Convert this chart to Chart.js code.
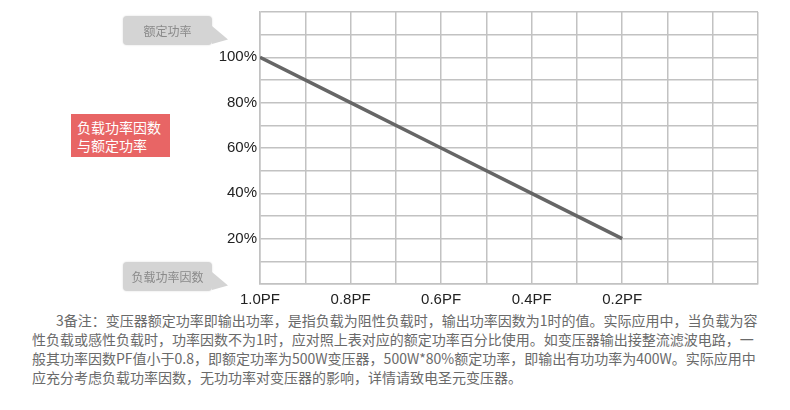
<!DOCTYPE html>
<html lang="zh-CN">
<head>
    <meta charset="UTF-8">
    <title>负载功率因数与额定功率</title>
    <style>
        body {
            margin: 0;
            padding: 0;
            background-color: #fff;
            font-family: 'Noto Sans CJK SC', sans-serif;
        }
        .page {
            position: relative;
            width: 790px;
            height: 410px;
            overflow: hidden;
        }
        #pfChart {
            position: absolute;
            left: 0;
            top: 0;
        }
        .bubble {
            position: absolute;
            width: 89px;
            height: 29px;
            line-height: 29px;
            background-color: #d4d4d4;
            border-radius: 4px;
            color: #8a8a8a;
            font-size: 12px;
            text-align: center;
            box-shadow: 0 0 2px rgba(0, 0, 0, 0.15);
        }
        .bubble::after {
            content: '';
            position: absolute;
            left: 89px;
            top: 10px;
            width: 16px;
            height: 18px;
            background-color: #d4d4d4;
            clip-path: polygon(0 0, 100% 75%, 0 100%);
        }
        .tag {
            position: absolute;
            left: 71px;
            top: 114px;
            width: 93px;
            height: 43px;
            padding-left: 6px;
            background-color: #e86565;
            color: #fff;
            font-size: 14px;
            line-height: 18px;
            padding-top: 4px;
            box-sizing: border-box;
            width: 99px;
        }
        .note {
            position: absolute;
            left: 32px;
            top: 311px;
            width: 716px;
            color: #6a6a6a;
            font-size: 14px;
            line-height: 19px;
        }
        .note div {
            white-space: nowrap;
            text-align: justify;
            text-align-last: justify;
        }
        .note div.first {
            padding-left: 24px;
        }
        .note div.last {
            text-align-last: left;
        }
    </style>
</head>
<body>
    <div class="page">
        <canvas id="pfChart" width="790" height="310"></canvas>
        <div class="bubble" style="left:123px; top:16px;">额定功率</div>
        <div class="bubble" style="left:123px; top:262px;">负载功率因数</div>
        <div class="tag">负载功率因数<br>与额定功率</div>
        <div class="note">
            <div class="first">3备注：变压器额定功率即输出功率，是指负载为阻性负载时，输出功率因数为1时的值。实际应用中，当负载为容</div>
            <div>性负载或感性负载时，功率因数不为1时，应对照上表对应的额定功率百分比使用。如变压器输出接整流滤波电路，一</div>
            <div>般其功率因数PF值小于0.8，即额定功率为500W变压器，500W*80%额定功率，即输出有功功率为400W。实际应用中</div>
            <div class="last">应充分考虑负载功率因数，无功功率对变压器的影响，详情请致电圣元变压器。</div>
        </div>
    </div>
    <script src="https://cdn.jsdelivr.net/npm/chart.js@4/dist/chart.umd.min.js"></script>
    <script>
        // power factor (x) and rated power percentage (y)
        const powerFactor = [1.0, 0.8, 0.6, 0.4, 0.2];
        const ratedPower = [100, 80, 60, 40, 20];

        // tick labels
        const pfTicks = [1.0, 0.8, 0.6, 0.4, 0.2];
        const pfLabels = ['1.0PF', '0.8PF', '0.6PF', '0.4PF', '0.2PF'];
        const pctTicks = [20, 40, 60, 80, 100];
        const pctLabels = ['20%', '40%', '60%', '80%', '100%'];

        const gridColor = '#c2c2c2';

        // find a label for a tick value, blank if none
        const labelFor = (value, ticks, labels) => {
            const i = ticks.findIndex(t => Math.abs(t - value) < 1e-6);
            return i >= 0 ? labels[i] : '';
        };

        const ctx = document.getElementById('pfChart').getContext('2d');
        new Chart(ctx, {
            type: 'line',
            data: {
                datasets: [{
                    data: powerFactor.map((pf, i) => ({ x: pf, y: ratedPower[i] })),
                    borderColor: '#666666',
                    borderWidth: 3.5,
                    pointRadius: 0,
                    fill: false,
                    tension: 0
                }]
            },
            options: {
                responsive: false,
                animation: false,
                layout: {
                    padding: { left: 0, right: 32, top: 12, bottom: 0 }
                },
                plugins: {
                    legend: { display: false },
                    tooltip: { enabled: false }
                },
                scales: {
                    x: {
                        type: 'linear',
                        reverse: true,
                        min: -0.1,
                        max: 1.0,
                        afterFit: (scale) => { scale.height = 26; },
                        grid: { color: gridColor, lineWidth: 1.5, drawTicks: false },
                        border: { color: gridColor, width: 1.5 },
                        ticks: {
                            stepSize: 0.1,
                            maxTicksLimit: 20,
                            padding: 7,
                            maxRotation: 0,
                            autoSkip: false,
                            color: '#222',
                            font: { family: 'Liberation Sans', size: 15 },
                            callback: (value) => labelFor(value, pfTicks, pfLabels)
                        }
                    },
                    y: {
                        min: 0,
                        max: 120,
                        afterFit: (scale) => { scale.width = 260; },
                        grid: { color: gridColor, lineWidth: 1.5, drawTicks: false },
                        border: { color: gridColor, width: 1.5 },
                        ticks: {
                            stepSize: 10,
                            maxTicksLimit: 20,
                            padding: 3,
                            autoSkip: false,
                            color: '#222',
                            font: { family: 'Liberation Sans', size: 15 },
                            callback: (value) => labelFor(value, pctTicks, pctLabels)
                        }
                    }
                }
            }
        });
    </script>
</body>
</html>
